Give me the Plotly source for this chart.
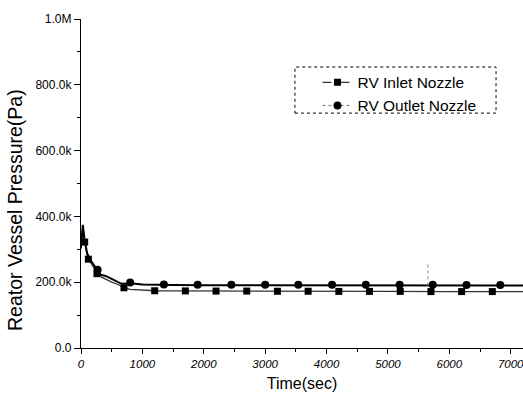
import plotly.graph_objects as go

# ---- data (time in s, pressure in Pa) ----
inlet_t = [0, 15, 30, 60, 100, 150, 210, 260, 320, 400, 500, 600, 650, 700, 800, 1000, 1200, 1500, 2000, 3000, 4000, 5000, 6000, 7200]
inlet_p = [300e3, 340e3, 368e3, 322e3, 283e3, 262e3, 245e3, 228e3, 217e3, 209e3, 200e3, 193e3, 188e3, 184e3, 178e3, 175e3, 174e3, 173.5e3, 173e3, 172.5e3, 172e3, 172e3, 171.5e3, 171.5e3]

outlet_t = [0, 15, 30, 60, 100, 150, 210, 270, 320, 400, 500, 600, 650, 700, 800, 1000, 1200, 1500, 2000, 3000, 4000, 5000, 6000, 7200]
outlet_p = [305e3, 345e3, 374e3, 326e3, 288e3, 268e3, 250e3, 236e3, 223e3, 219e3, 210e3, 200e3, 196e3, 195e3, 197e3, 193e3, 192e3, 191.5e3, 191e3, 191e3, 190.5e3, 190.5e3, 190e3, 190e3]

inlet_mt = [60, 120, 260, 700, 1200, 1700, 2200, 2700, 3200, 3700, 4200, 4700, 5200, 5700, 6200, 6700]
inlet_mp = [322e3, 270e3, 226e3, 183e3, 174e3, 173.5e3, 173e3, 173e3, 172.5e3, 172.5e3, 172e3, 172e3, 172e3, 171.5e3, 171.5e3, 171.5e3]

outlet_mt = [270, 800, 1350, 1900, 2450, 3000, 3540, 4090, 4640, 5190, 5730, 6280, 6830]
outlet_mp = [238e3, 199e3, 193e3, 192.5e3, 192.5e3, 192.5e3, 192e3, 192e3, 192e3, 192e3, 192e3, 191.5e3, 191.5e3]

spike_t = [5650, 5650]
spike_p = [190e3, 260e3]

y_tickvals = [0, 200e3, 400e3, 600e3, 800e3, 1000e3]
y_ticktext = ["0.0", "200.0k", "400.0k", "600.0k", "800.0k", "1.0M"]
x_tickvals = [0, 1000, 2000, 3000, 4000, 5000, 6000, 7000]
x_ticktext = ["0", "1000", "2000", "3000", "4000", "5000", "6000", "7000"]

FONT = "Liberation Sans"

fig = go.Figure()
fig.add_trace(go.Scatter(x=inlet_t, y=inlet_p, mode="lines",
                         line=dict(color="#333", width=1.3), showlegend=False, hoverinfo="skip"))
fig.add_trace(go.Scatter(x=outlet_t, y=outlet_p, mode="lines",
                         line=dict(color="black", width=2), showlegend=False, hoverinfo="skip"))
fig.add_trace(go.Scatter(x=spike_t, y=spike_p, mode="lines",
                         line=dict(color="#888", width=1, dash="dot"), showlegend=False, hoverinfo="skip"))
fig.add_trace(go.Scatter(x=inlet_mt, y=inlet_mp, mode="markers",
                         marker=dict(symbol="square", size=7, color="black"), showlegend=False))
fig.add_trace(go.Scatter(x=outlet_mt, y=outlet_mp, mode="markers",
                         marker=dict(symbol="circle", size=8, color="black"), showlegend=False))
# legend entries
fig.add_trace(go.Scatter(x=[None], y=[None], mode="lines+markers", name="RV Inlet Nozzle",
                         line=dict(color="black", width=1, dash="dash"),
                         marker=dict(symbol="square", size=7, color="black")))
fig.add_trace(go.Scatter(x=[None], y=[None], mode="lines+markers", name="RV Outlet Nozzle",
                         line=dict(color="#777", width=1, dash="dot"),
                         marker=dict(symbol="circle", size=8, color="black")))

fig.update_layout(
    width=523, height=399,
    margin=dict(l=81, r=0, t=19, b=51),
    paper_bgcolor="white", plot_bgcolor="white",
    font=dict(family=FONT, color="black"),
    legend=dict(x=0.535, y=0.858, xanchor="left", yanchor="top",
                bgcolor="rgba(0,0,0,0)", borderwidth=0,
                font=dict(size=15.5, family=FONT), tracegroupgap=0, itemwidth=30),
    shapes=[dict(type="rect", xref="paper", yref="paper",
                 x0=0.484, x1=0.939, y0=0.714, y1=0.854,
                 line=dict(color="black", width=1, dash="dot"))],
    annotations=[dict(text="Reator Vessel Pressure(Pa)", textangle=-90,
                      xref="paper", yref="paper", x=-0.1493, y=0.4195,
                      xanchor="center", yanchor="middle", showarrow=False,
                      font=dict(size=19.5, family=FONT))],
)
fig.update_xaxes(range=[0, 7200], showgrid=False, zeroline=False,
                 showline=True, linecolor="black", linewidth=1.3,
                 tickvals=x_tickvals, ticktext=["<i>%s</i>" % t for t in x_ticktext],
                 ticks="outside", ticklen=5, tickcolor="black",
                 ticklabeloverflow="allow",
                 tickfont=dict(size=11.5, family=FONT),
                 minor=dict(tickvals=[500, 1500, 2500, 3500, 4500, 5500, 6500],
                            ticks="outside", ticklen=3, tickcolor="black"),
                 title=dict(text="Time(sec)", font=dict(size=16, family=FONT), standoff=8))
fig.update_yaxes(range=[0, 1e6], showgrid=False, zeroline=False,
                 showline=True, linecolor="black", linewidth=1.3,
                 tickvals=y_tickvals, ticktext=y_ticktext,
                 ticks="outside", ticklen=6, tickcolor="black",
                 tickfont=dict(size=12, family=FONT),
                 minor=dict(tickvals=[100e3, 300e3, 500e3, 700e3, 900e3],
                            ticks="outside", ticklen=3, tickcolor="black"))

fig.write_html("out.html")
